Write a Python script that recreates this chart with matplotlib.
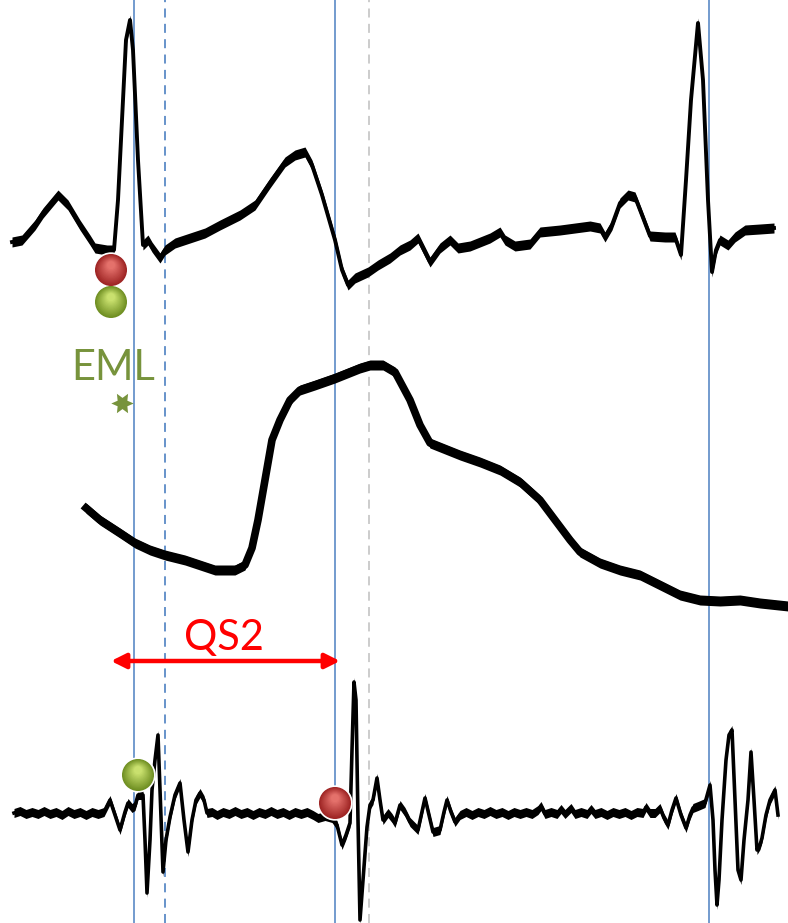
import numpy as np
import matplotlib as mpl
import matplotlib.pyplot as plt
from matplotlib.patches import Circle
mpl.use('Agg')

# traces (x in px, y in px from top)
ecg_x = [12, 22, 35, 43, 58, 68, 80, 90, 95, 107, 114, 118, 122, 126, 130, 133, 138, 143, 148, 152,
         160, 165, 175, 190, 205, 220, 240, 255, 270, 285, 295, 305, 312, 322, 335, 342, 348, 355,
         368, 378, 390, 400, 410, 418, 430, 440, 450, 458, 470, 480, 490, 500, 505, 515, 530, 540,
         560, 590, 600, 605, 612, 620, 628, 635, 642, 650, 665, 675, 681, 686, 691, 698, 703, 708,
         712, 716, 720, 728, 735, 745, 760, 774]
ecg_y = [242, 240, 225, 213, 195, 205, 225, 240, 248, 250, 250, 200, 120, 40, 20, 50, 160, 245, 240, 247,
         258, 250, 243, 238, 233, 225, 215, 205, 183, 162, 155, 152, 165, 195, 240, 270, 285, 278,
         272, 265, 258, 250, 245, 238, 262, 248, 240, 248, 246, 242, 238, 232, 240, 246, 244, 232,
         230, 226, 228, 237, 225, 203, 195, 197, 215, 236, 237, 237, 255, 180, 100, 23, 80, 200,
         272, 250, 240, 245, 237, 230, 229, 228]

press_x = [86, 100, 120, 135, 150, 165, 185, 200, 215, 235, 245, 252, 258, 265, 272, 280, 290, 300,
           315, 335, 350, 360, 370, 383, 395, 410, 420, 430, 440, 460, 480, 500, 520, 540, 555, 570,
           580, 600, 620, 640, 660, 680, 700, 720, 740, 760, 788]
press_y = [508, 520, 533, 543, 550, 555, 560, 565, 570, 570, 565, 548, 520, 480, 440, 420, 400, 390,
           385, 378, 372, 368, 365, 365, 372, 400, 425, 443, 447, 455, 462, 470, 482, 500, 520, 540,
           552, 563, 570, 575, 585, 595, 600, 601, 600, 603, 606]

pcg = [(14, 813), (20, 811), (26, 814), (32, 812), (38, 814), (44, 811), (50, 814), (56, 812),
       (62, 815), (68, 811), (74, 814), (80, 812), (86, 815), (92, 812), (98, 814), (104, 812),
       (110, 800), (115, 815), (120, 830), (125, 812), (128, 803), (132, 808), (135, 806), (138, 795),
       (143, 795), (145, 840), (147, 893), (150, 840), (152, 790), (155, 760), (158, 735), (160, 790),
       (163, 872), (166, 840), (170, 817), (175, 795), (180, 783), (184, 820), (188, 852), (192, 820),
       (196, 800), (200, 793), (204, 800), (207, 813), (212, 812), (217, 815), (223, 812), (229, 814),
       (235, 811), (241, 814), (247, 812), (253, 815), (259, 812), (265, 814), (271, 811), (277, 814),
       (283, 812), (289, 815), (295, 812), (301, 814), (307, 812), (313, 815), (318, 818), (325, 816),
       (332, 818), (337, 825), (342, 845), (346, 835), (350, 823), (352, 750), (354, 682), (356, 700),
       (358, 820), (360, 920), (363, 880), (367, 827), (370, 805), (373, 800), (377, 778), (380, 800),
       (383, 820), (388, 813), (392, 818), (395, 823), (400, 805), (405, 812), (410, 822), (418, 830),
       (425, 798), (429, 815), (433, 832), (440, 830), (444, 812), (447, 800), (451, 812), (455, 822),
       (460, 815), (466, 812), (472, 815), (478, 812), (484, 814), (490, 811), (496, 814), (502, 812),
       (508, 815), (514, 812), (520, 814), (526, 812), (532, 814), (538, 810), (541, 806), (545, 814),
       (551, 812), (557, 814), (561, 809), (565, 814), (571, 808), (575, 814), (581, 812), (587, 814),
       (591, 809), (595, 814), (601, 812), (607, 815), (613, 812), (619, 814), (625, 812), (631, 815),
       (637, 812), (643, 813), (646, 807), (650, 813), (655, 813), (660, 808), (664, 818), (668, 825),
       (672, 810), (676, 798), (681, 815), (686, 828), (690, 815), (693, 808), (698, 806), (705, 803),
       (710, 785), (713, 820), (715, 870), (717, 905), (719, 880), (722, 820), (726, 760), (729, 735),
       (732, 730), (735, 800), (738, 870), (741, 880), (744, 840), (748, 800), (751, 752), (754, 800),
       (757, 850), (760, 845), (762, 838), (766, 815), (770, 800), (775, 790), (778, 815)]
pcg_x = [p[0] for p in pcg]
pcg_y = [p[1] for p in pcg]

blue_solid = [134, 335, 709]
blue_dashed = [165]
gray_dashed = [369]

red_balls = [(111, 270), (335, 803)]
green_balls = [(111, 302), (138, 775)]

blue = '#5b8ac6'

fig = plt.figure(figsize=(7.88, 9.23), dpi=100)
ax = fig.add_axes([0, 0, 1, 1])
ax.set_xlim(0, 788)
ax.set_ylim(923, 0)
ax.axis('off')

for x in blue_solid:
    ax.axvline(x, color=blue, lw=1.2, zorder=1)
for x in blue_dashed:
    ax.axvline(x, color=blue, lw=1.3, ls=(0, (5, 3.5)), zorder=1)
for x in gray_dashed:
    ax.axvline(x, color='#c8c8c8', lw=1.3, ls=(0, (5, 3.5)), zorder=1)


def trace(x, y, lw, band):
    # line plus a vertical band: thick where flat, thin on the steep strokes
    x = np.array(x)
    y = np.array(y)
    ax.plot(x, y, color='black', lw=lw, solid_joinstyle='round', zorder=3)
    ax.fill_between(x, y - band, y + band, color='black', lw=0, zorder=3)


trace(ecg_x, ecg_y, 2.8, 5.0)
trace(press_x, press_y, 5.5, 5.0)
trace(pcg_x, pcg_y, 2.6, 4.5)


def ball(cx, cy, dark, light, r=16):
    ax.add_patch(Circle((cx, cy), r + 1, color='white', zorder=5))
    n = 14
    for i in range(n):
        f = i / (n - 1)
        c = tuple(np.array(mpl.colors.to_rgb(dark)) * (1 - f) + np.array(mpl.colors.to_rgb(light)) * f)
        ax.add_patch(Circle((cx, cy - r * 0.3 * f), r * (1 - 0.75 * f), color=c, lw=0, zorder=6))


for cx, cy in red_balls:
    ball(cx, cy, '#9e2424', '#e4716b')
for cx, cy in green_balls:
    ball(cx, cy, '#6f8f22', '#c9e06e')

ax.text(113, 368, 'EML', color='#77933c', fontsize=30, family='Lato',
        ha='center', va='center', zorder=7)
ax.scatter([122], [403], marker=(6, 1, 30), s=260, color='#77933c', lw=0, zorder=7)

ax.annotate('', xy=(111, 661), xytext=(340, 661),
            arrowprops=dict(arrowstyle='<|-|>', color='red', lw=3.2,
                            mutation_scale=22, shrinkA=0, shrinkB=0), zorder=7)
ax.text(224, 638, 'QS2', color='red', fontsize=30, family='Lato',
        ha='center', va='center', zorder=7)

plt.savefig('out.png', dpi=100)
